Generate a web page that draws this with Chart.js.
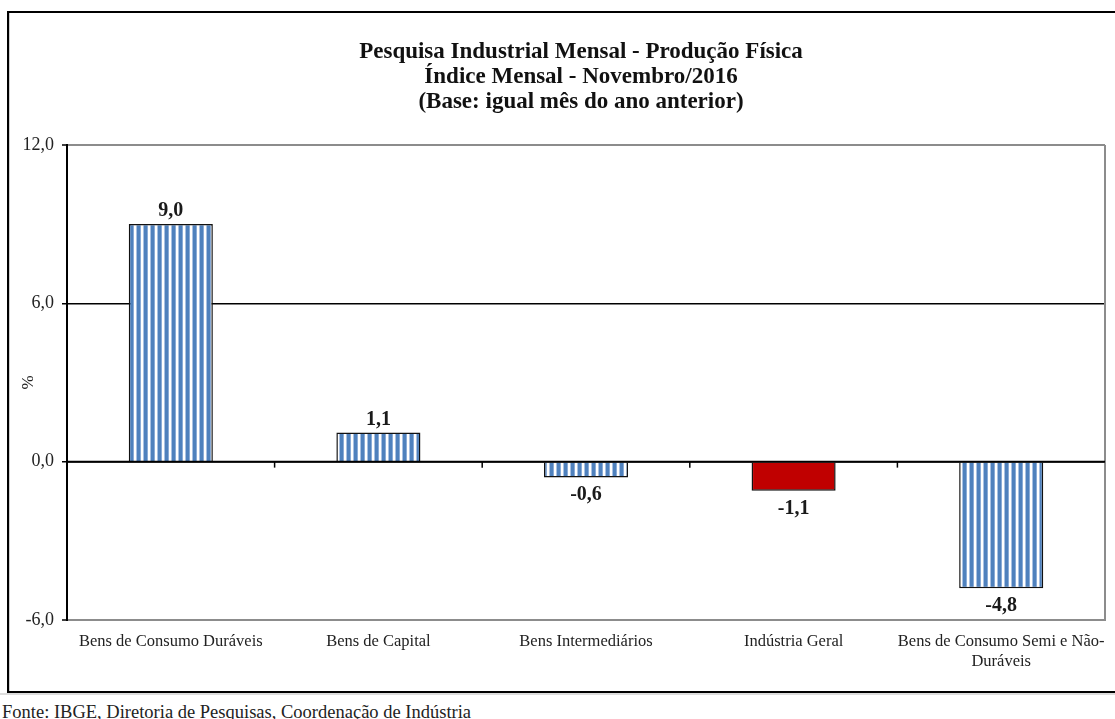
<!DOCTYPE html>
<html>
<head>
<meta charset="utf-8">
<script src="https://cdn.jsdelivr.net/npm/chart.js@4.4.1/dist/chart.umd.min.js"></script>
<style>
  html, body { margin: 0; background: #fff; overflow: hidden; width: 1115px; height: 719px; }
  #frame {
    position: absolute; left: 7px; top: 11px;
    width: 1190px; height: 678px;
    border: 2px solid #000;
  }
  #inner { position: absolute; left: 0; top: 0; width: 1190px; height: 678px; border-left: 1px solid #cfcfcf; box-sizing: border-box; }
  #chart { position: absolute; left: 0; top: 0; }
  #under { position: absolute; left: 0; top: 693px; width: 1115px; height: 2px; background: #dcdcdc; }
  #fonte {
    position: absolute; left: 2px; top: 702px;
    font-family: "Liberation Serif", serif; font-size: 18.5px; color: #222;
    white-space: nowrap;
  }
</style>
</head>
<body>
<div id="frame"><div id="inner"><canvas id="chart" width="1142" height="678"></canvas></div></div>
<div id="under"></div>
<div id="fonte">Fonte: IBGE, Diretoria de Pesquisas, Coordenação de Indústria</div>
<script>
var categories = [
  "Bens de Consumo Duráveis",
  "Bens de Capital",
  "Bens Intermediários",
  "Indústria Geral",
  ["Bens de Consumo Semi e Não-", "Duráveis"]
];
var values = [9.0, 1.1, -0.6, -1.1, -4.8];
var highlight = [false, false, false, true, false];
var yTicks = [-6, 0, 6, 12];
var titleLines = [
  "Pesquisa Industrial Mensal - Produção Física",
  "Índice Mensal - Novembro/2016",
  "(Base: igual mês do ano anterior)"
];

// striped fill like the excel pattern
function stripes() {
  var c = document.createElement("canvas");
  c.width = 7; c.height = 4;
  var g = c.getContext("2d");
  g.fillStyle = "#ffffff"; g.fillRect(0, 0, 7, 4);
  g.fillStyle = "#a9c1e2"; g.fillRect(0, 0, 1, 4);
  g.fillStyle = "#4f81bd"; g.fillRect(1, 0, 3, 4);
  g.fillStyle = "#8aabd6"; g.fillRect(4, 0, 1, 4);
  return document.getElementById("chart").getContext("2d").createPattern(c, "repeat");
}
var pat = stripes();
var fills = highlight.map(function (h) { return h ? "#c00000" : pat; });

var fmt = function (v) { return v.toFixed(1).replace(".", ","); };

var extras = {
  id: "extras",
  afterDatasetsDraw: function (chart) {
    var ctx = chart.ctx, x = chart.scales.x, y = chart.scales.y, a = chart.chartArea;
    var y0 = y.getPixelForValue(0);
    ctx.save();
    // right frame of the plot
    ctx.strokeStyle = "#8c8c8c"; ctx.lineWidth = 2;
    ctx.beginPath(); ctx.moveTo(a.right, a.top); ctx.lineTo(a.right, a.bottom); ctx.stroke();
    // zero line with category ticks
    ctx.strokeStyle = "#000"; ctx.lineWidth = 2;
    ctx.beginPath(); ctx.moveTo(a.left, y0); ctx.lineTo(a.right, y0); ctx.stroke();
    ctx.lineWidth = 1.5;
    for (var i = 1; i < categories.length; i++) {
      var bx = (x.getPixelForTick(i - 1) + x.getPixelForTick(i)) / 2;
      ctx.beginPath(); ctx.moveTo(bx, y0); ctx.lineTo(bx, y0 + 6); ctx.stroke();
    }
    // value labels
    ctx.fillStyle = "#1a1a1a";
    ctx.font = "bold 20px 'Liberation Serif'";
    ctx.textAlign = "center"; ctx.textBaseline = "alphabetic";
    chart.getDatasetMeta(0).data.forEach(function (bar, i) {
      var v = values[i];
      var ty = v >= 0 ? bar.y - 8 : bar.y + 23;
      ctx.fillText(fmt(v), bar.x, ty);
    });
    ctx.restore();
  }
};

new Chart(document.getElementById("chart"), {
  type: "bar",
  data: {
    labels: categories,
    datasets: [{
      data: values,
      backgroundColor: fills,
      borderColor: "#111",
      borderWidth: 1.5,
      categoryPercentage: 1,
      barPercentage: 0.405
    }]
  },
  options: {
    responsive: false,
    animation: false,
    events: [],
    plugins: {
      legend: { display: false },
      tooltip: { enabled: false },
      title: {
        display: true,
        text: titleLines,
        color: "#111",
        font: { family: "Liberation Serif", size: 23, weight: "bold", lineHeight: 1.1 },
        padding: { top: 26, bottom: 30 }
      }
    },
    scales: {
      x: {
        grid: { display: false, drawTicks: false },
        border: { display: true, color: "#8c8c8c", width: 2 },
        ticks: {
          color: "#222",
          font: { family: "Liberation Serif", size: 16.5, lineHeight: 1.2 },
          padding: 12,
          maxRotation: 0, autoSkip: false
        },
        afterFit: function (s) { s.height = 71; }
      },
      y: {
        min: -6, max: 12,
        afterBuildTicks: function (s) { s.ticks = yTicks.map(function (v) { return { value: v }; }); },
        grid: {
          color: function (c) { return (c.tick && (c.tick.value === 0 || c.tick.value === 6)) ? "#000" : "#8c8c8c"; },
          lineWidth: function (c) { return (c.tick && (c.tick.value === 0 || c.tick.value === 6)) ? 1.5 : 2; },
          tickColor: "#000", tickLength: 5, tickWidth: 1.5
        },
        border: { display: true, color: "#000", width: 2 },
        ticks: {
          color: "#222",
          font: { family: "Liberation Serif", size: 18 },
          padding: 8,
          callback: function (v) { return fmt(v); }
        },
        title: {
          display: true, text: "%", color: "#222",
          font: { family: "Liberation Serif", size: 17 },
          padding: { top: 8, bottom: 0 }
        },
        afterFit: function (s) { s.width = 57; }
      },
      // empty right axis, only keeps space so the title stays centred on the whole chart
      yRight: {
        position: "right",
        min: -6, max: 12,
        grid: { display: false, drawTicks: false },
        border: { display: false },
        ticks: { display: false },
        afterFit: function (s) { s.width = 47; }
      }
    }
  },
  plugins: [extras]
});
</script>
</body>
</html>
